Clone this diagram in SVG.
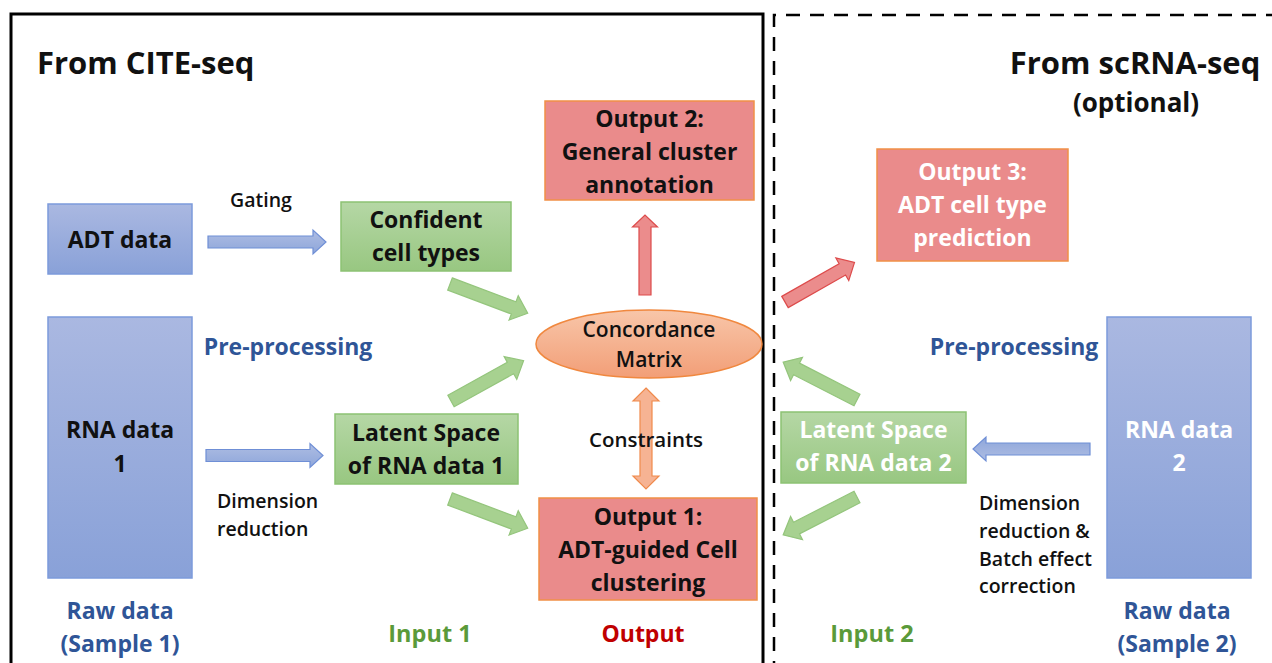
<svg xmlns="http://www.w3.org/2000/svg" width="1272" height="663" viewBox="0 0 1272 663">
  <defs>
    <linearGradient id="gBlue" x1="0" y1="0" x2="0" y2="1">
      <stop offset="0" stop-color="#aab8e1"/>
      <stop offset="1" stop-color="#89a1d8"/>
    </linearGradient>
    <linearGradient id="gGreen" x1="0" y1="0" x2="0" y2="1">
      <stop offset="0" stop-color="#b5d7a5"/>
      <stop offset="1" stop-color="#98c781"/>
    </linearGradient>
    <linearGradient id="gPeach" x1="0" y1="0" x2="0" y2="1">
      <stop offset="0" stop-color="#f8c6a9"/>
      <stop offset="1" stop-color="#f29e77"/>
    </linearGradient>
    <linearGradient id="gBlueArrow" x1="0" y1="0" x2="0" y2="1">
      <stop offset="0" stop-color="#aebde3"/>
      <stop offset="1" stop-color="#8ea6da"/>
    </linearGradient>
    <!-- Block arrow shapes pointing along +x, tail at the origin -->
    <polygon id="arrowH" points="0,-6 105,-6 105,-12 118,0 105,12 105,6 0,6"/>
    <polygon id="arrowH2" points="0,-6 104,-6 104,-12 117,0 104,12 104,6 0,6"/>
    <polygon id="arrowDiag" points="0,-6.5 68,-6.5 68,-13 83,0 68,13 68,6.5 0,6.5"/>
    <polygon id="arrowRed" points="0,-6.5 66,-6.5 66,-13 80,0 66,13 66,6.5 0,6.5"/>
  </defs>
  <style>
    text { font-family: "Open Sans", "Noto Sans", "DejaVu Sans", sans-serif; }
    .title { font-size: 31px; font-weight: 700; fill: #111; }
    .box-label { font-size: 23px; font-weight: 700; fill: #111; text-anchor: middle; }
    .box-label.light { fill: #ffffff; }
    .step { font-size: 19.5px; font-weight: 600; fill: #111; }
    .blue-label { font-size: 23px; font-weight: 700; fill: #2f5597; text-anchor: middle; }
    .green-label { font-size: 23.5px; font-weight: 700; fill: #5a9a3a; text-anchor: middle; }
    .red-label { font-size: 23px; font-weight: 700; fill: #c00000; text-anchor: middle; }
    .blue-box { fill: url(#gBlue); stroke: #7c9bdb; stroke-width: 1.5; }
    .green-box { fill: url(#gGreen); stroke: #8cc273; stroke-width: 1.5; }
    .red-box { fill: #ea8b8b; stroke: #f19047; stroke-width: 1.5; }
    .blue-arrow { fill: url(#gBlueArrow); stroke: #6f8fd6; stroke-width: 1.2; }
    .green-arrow { fill: #a7d190; stroke: #94c57c; stroke-width: 1.2; }
    .red-arrow { fill: #eb8c8c; stroke: #dd4b4b; stroke-width: 1.2; }
    .orange-arrow { fill: #f6b393; stroke: #f08a4b; stroke-width: 1.2; }
  </style>

  <rect width="1272" height="663" fill="#ffffff"/>

  <!-- Panel frames -->
  <g id="frames">
    <rect x="11" y="14" width="752" height="660" fill="none" stroke="#000" stroke-width="3"/>
    <path d="M774,675 L774,15 L1285,15" fill="none" stroke="#000" stroke-width="2.5" stroke-dasharray="14,10"/>
  </g>

  <!-- Connectors -->
  <g id="connectors">
    <use href="#arrowH" class="blue-arrow" transform="translate(208,242)"/>
    <use href="#arrowH2" class="blue-arrow" transform="translate(206,455.5)"/>
    <use href="#arrowH2" class="blue-arrow" transform="translate(1090,449) rotate(180)"/>

    <use href="#arrowDiag" class="green-arrow" transform="translate(450,284) rotate(20.6)"/>
    <use href="#arrowDiag" class="green-arrow" transform="translate(451,401) rotate(-29)"/>
    <use href="#arrowDiag" class="green-arrow" transform="translate(450,499) rotate(20.6)"/>
    <use href="#arrowDiag" class="green-arrow" transform="translate(857,400) rotate(207.2)"/>
    <use href="#arrowDiag" class="green-arrow" transform="translate(857,497) rotate(152.8)"/>

    <polygon class="red-arrow" points="639,295 639,227 632.5,227 645,215 657.5,227 651,227 651,295"/>
    <use href="#arrowRed" class="red-arrow" transform="translate(785,302) rotate(-29.7)"/>

    <polygon class="orange-arrow" points="646,388 659,401 652,401 652,476 659,476 646,489 633,476 640,476 640,401 633,401"/>
  </g>

  <!-- Section headings, lane labels and step labels -->
  <g id="labels">
    <text class="title" x="37" y="74">From CITE-seq</text>
    <text class="title" x="1135" y="74" text-anchor="middle">From scRNA-seq</text>
    <text class="title" x="1136" y="112" text-anchor="middle" style="font-size:26px">(optional)</text>

    <text class="blue-label" x="288" y="355">Pre-processing</text>
    <text class="blue-label" x="1014" y="355">Pre-processing</text>

    <text class="blue-label" x="120" y="619">Raw data</text>
    <text class="blue-label" x="120" y="652">(Sample 1)</text>
    <text class="blue-label" x="1177" y="619">Raw data</text>
    <text class="blue-label" x="1177" y="652">(Sample 2)</text>

    <text class="green-label" x="430" y="642">Input 1</text>
    <text class="red-label" x="643" y="642">Output</text>
    <text class="green-label" x="872" y="642">Input 2</text>

    <text class="step" x="261" y="207" text-anchor="middle">Gating</text>
    <text class="step" x="217" y="508">Dimension</text>
    <text class="step" x="217" y="536">reduction</text>
    <text class="step" x="646" y="447" text-anchor="middle" style="font-size:20.5px">Constraints</text>
    <text class="step" x="979" y="510">Dimension</text>
    <text class="step" x="979" y="538">reduction &amp;</text>
    <text class="step" x="979" y="566">Batch effect</text>
    <text class="step" x="979" y="593">correction</text>
  </g>

  <!-- CITE-seq nodes -->
  <g id="adt-data">
    <rect class="blue-box" x="48" y="204" width="144" height="70"/>
    <text class="box-label" x="120" y="248">ADT data</text>
  </g>
  <g id="rna-data-1">
    <rect class="blue-box" x="48" y="317" width="144" height="261"/>
    <text class="box-label" x="120" y="438">RNA data</text>
    <text class="box-label" x="120" y="472">1</text>
  </g>
  <g id="confident-cell-types">
    <rect class="green-box" x="341" y="202" width="170" height="69"/>
    <text class="box-label" x="426" y="228">Confident</text>
    <text class="box-label" x="426" y="261">cell types</text>
  </g>
  <g id="latent-space-1">
    <rect class="green-box" x="335" y="414" width="183" height="70"/>
    <text class="box-label" x="426" y="441">Latent Space</text>
    <text class="box-label" x="426" y="474">of RNA data 1</text>
  </g>
  <g id="concordance-matrix">
    <ellipse cx="649" cy="344" rx="113" ry="34" fill="url(#gPeach)" stroke="#f0883f" stroke-width="1.5"/>
    <text class="box-label" x="649" y="337" style="font-size:21px;font-weight:600">Concordance</text>
    <text class="box-label" x="649" y="367" style="font-size:21px;font-weight:600">Matrix</text>
  </g>
  <g id="output-2">
    <rect class="red-box" x="545" y="101" width="209" height="99"/>
    <text class="box-label" x="649.5" y="127">Output 2:</text>
    <text class="box-label" x="649.5" y="160">General cluster</text>
    <text class="box-label" x="649.5" y="193">annotation</text>
  </g>
  <g id="output-1">
    <rect class="red-box" x="539" y="498" width="218" height="102"/>
    <text class="box-label" x="648" y="525">Output 1:</text>
    <text class="box-label" x="648" y="558">ADT-guided Cell</text>
    <text class="box-label" x="648" y="591">clustering</text>
  </g>

  <!-- scRNA-seq nodes -->
  <g id="output-3">
    <rect class="red-box" x="877" y="149" width="191" height="112"/>
    <text class="box-label light" x="972.5" y="180">Output 3:</text>
    <text class="box-label light" x="972.5" y="213">ADT cell type</text>
    <text class="box-label light" x="972.5" y="246">prediction</text>
  </g>
  <g id="latent-space-2">
    <rect class="green-box" x="781" y="412" width="185" height="71"/>
    <text class="box-label light" x="873.5" y="438">Latent Space</text>
    <text class="box-label light" x="873.5" y="471">of RNA data 2</text>
  </g>
  <g id="rna-data-2">
    <rect class="blue-box" x="1107" y="317" width="144" height="261"/>
    <text class="box-label light" x="1179" y="438">RNA data</text>
    <text class="box-label light" x="1179" y="471">2</text>
  </g>
</svg>
